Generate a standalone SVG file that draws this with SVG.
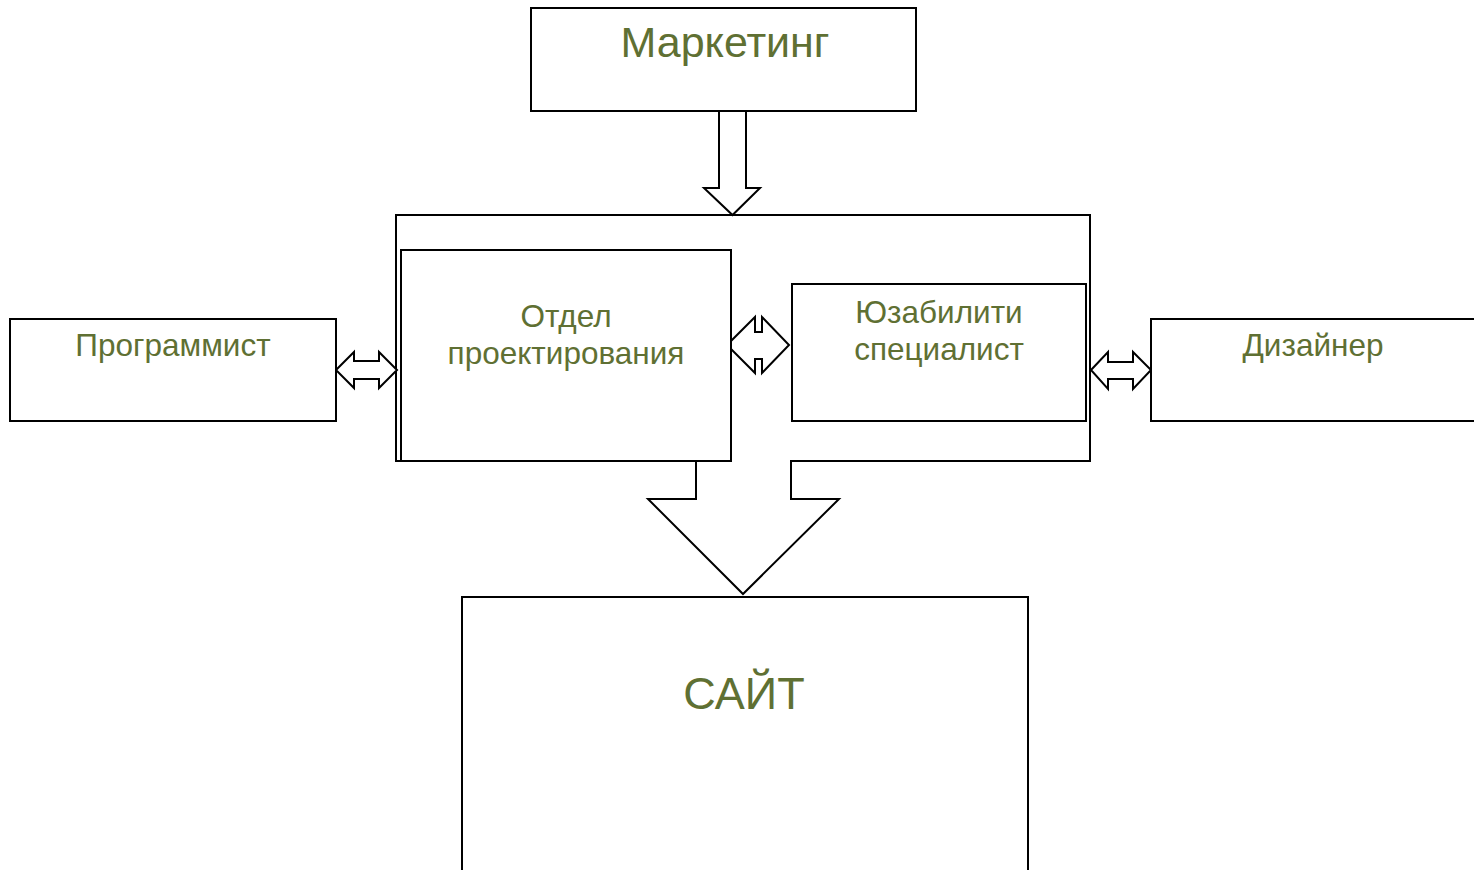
<svg xmlns="http://www.w3.org/2000/svg" width="1474" height="870" viewBox="0 0 1474 870">
<style>
.box{fill:#fff;stroke:#000;stroke-width:2}
.arr{fill:#fff;stroke:#000;stroke-width:2;stroke-linejoin:miter}
.lbl{font-family:"Liberation Sans",Arial,sans-serif;fill:#5F7033;text-anchor:middle}
</style>
<rect width="1474" height="870" fill="#fff"/>
<g id="container">
<rect class="box" x="396" y="215" width="694" height="246"/>
</g>
<g id="connectors">
<polygon class="arr" points="719,111 746,111 746,188 760,188 732.5,215 704,188 719,188"/>
<polygon points="697,455 790,455 790,463 697,463" fill="#fff"/>
<path class="arr" d="M696,461 L696,499 L648,499 L743,594 L839,499 L791,499 L791,461"/>
<polygon class="arr" points="336,370 354,352 354,361 379,361 379,352 397,370 379,388 379,379 354,379 354,388"/>
<polygon class="arr" points="1091,370 1108,352 1108,362 1133,362 1133,352 1151,370 1133,389 1133,379 1108,379 1108,389"/>
<polygon class="arr" points="727,345 755,317 755,332 762,332 762,317 789,345 762,373 762,359 755,359 755,373"/>
</g>
<g id="marketing">
<rect class="box" x="531" y="8" width="385" height="103"/>
<text class="lbl" x="725" y="57" font-size="43">Маркетинг</text>
</g>
<g id="otdel">
<rect class="box" x="401" y="250" width="330" height="211"/>
<text class="lbl" x="566" y="327" font-size="31.5">Отдел</text>
<text class="lbl" x="566" y="364" font-size="31.5">проектирования</text>
</g>
<g id="usability">
<rect class="box" x="792" y="284" width="294" height="137"/>
<text class="lbl" x="939" y="323" font-size="31.5">Юзабилити</text>
<text class="lbl" x="939" y="360" font-size="31.5">специалист</text>
</g>
<g id="programmer">
<rect class="box" x="10" y="319" width="326" height="102"/>
<text class="lbl" x="173" y="356" font-size="31.5">Программист</text>
</g>
<g id="designer">
<rect class="box" x="1151" y="319" width="330" height="102"/>
<text class="lbl" x="1313" y="356" font-size="31.5">Дизайнер</text>
</g>
<g id="site">
<rect class="box" x="462" y="597" width="566" height="280"/>
<text class="lbl" x="744" y="709" font-size="45">САЙТ</text>
</g>
</svg>
